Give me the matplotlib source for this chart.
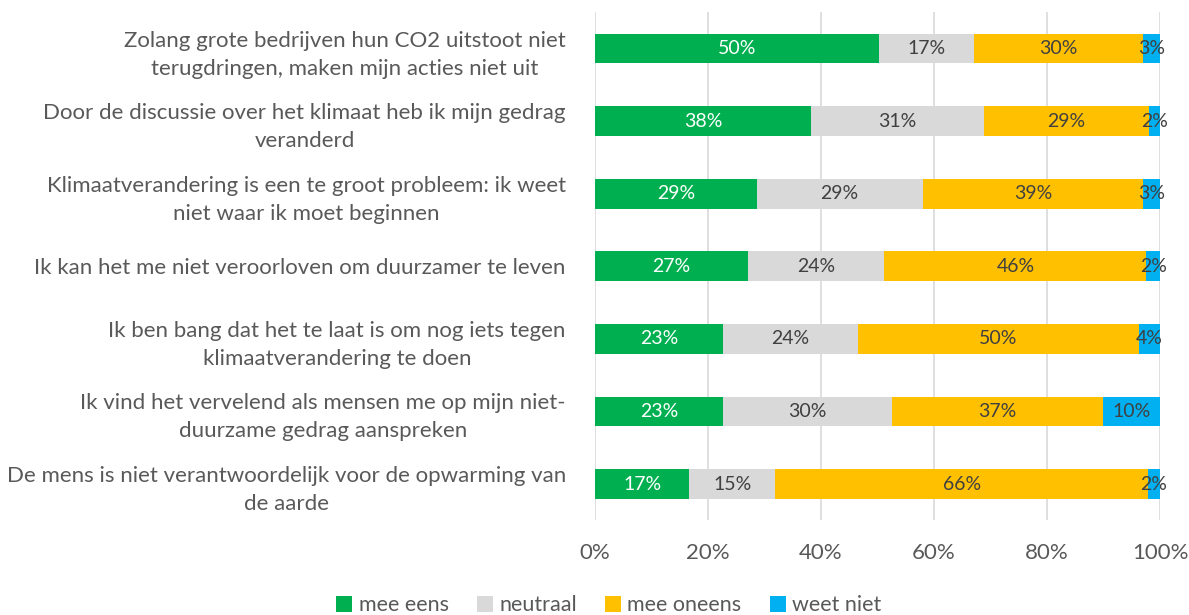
import matplotlib.pyplot as plt
import numpy as np

# Data (percentages)
statements = [
    'Zolang grote bedrijven hun CO2 uitstoot niet\nterugdringen, maken mijn acties niet uit',
    'Door de discussie over het klimaat heb ik mijn gedrag\nveranderd',
    'Klimaatverandering is een te groot probleem: ik weet\nniet waar ik moet beginnen',
    'Ik kan het me niet veroorloven om duurzamer te leven',
    'Ik ben bang dat het te laat is om nog iets tegen\nklimaatverandering te doen',
    'Ik vind het vervelend als mensen me op mijn niet-\nduurzame gedrag aanspreken',
    'De mens is niet verantwoordelijk voor de opwarming van\nde aarde',
]
mee_eens = [50.3, 38.2, 28.6, 27.0, 22.6, 22.6, 16.7]
neutraal = [16.8, 30.6, 29.4, 24.2, 23.9, 29.9, 15.2]
mee_oneens = [29.9, 29.3, 39.0, 46.4, 49.8, 37.4, 66.0]
weet_niet = [3.0, 1.9, 3.0, 2.4, 3.7, 10.1, 2.1]

series = [mee_eens, neutraal, mee_oneens, weet_niet]
names = ['mee eens', 'neutraal', 'mee oneens', 'weet niet']
colors = ['#00B050', '#D9D9D9', '#FFC000', '#00B0F0']
label_colors = ['white', '#404040', '#404040', '#404040']

plt.rcParams['font.family'] = ['Lato', 'DejaVu Sans']
txt = '#595959'

fig = plt.figure(figsize=(11.89, 6.15), dpi=100)
ax = fig.add_axes([0.5004, 0.154, 0.4752, 0.826])

y = np.arange(len(statements))
left = np.zeros(len(statements))
for vals, name, col, lc in zip(series, names, colors, label_colors):
    vals = np.array(vals) / 100
    bars = ax.barh(y, vals, left=left, height=0.41, color=col, label=name, zorder=3)
    for b, v in zip(bars, vals):
        ax.text(b.get_x() + b.get_width() / 2, b.get_y() + b.get_height() / 2,
                '{:.0f}%'.format(round(v * 100)), ha='center', va='center',
                color=lc, fontsize=14, zorder=4)
    left += vals

ax.set_xlim(0, 1)
ax.set_ylim(len(statements) - 0.5, -0.5)
ax.set_xticks(np.arange(0, 1.01, 0.2))
ax.set_xticklabels(['{:.0f}%'.format(t * 100) for t in np.arange(0, 1.01, 0.2)])
ax.set_yticks(y)
ax.set_yticklabels(statements, ha='right', multialignment='center', linespacing=1.5)
ax.tick_params(axis='both', length=0, colors=txt)
ax.tick_params(axis='x', pad=16, labelsize=16)
ax.tick_params(axis='y', pad=21, labelsize=16)
ax.grid(axis='x', color='#D9D9D9', linewidth=1.2, zorder=0)
for s in ax.spines.values():
    s.set_visible(False)

leg = fig.legend(loc='lower center', bbox_to_anchor=(0.512, -0.032), ncol=4, frameon=False,
                 fontsize=15.5, handlelength=0.75, handleheight=0.75, handletextpad=0.3,
                 columnspacing=1.3)
for t in leg.get_texts():
    t.set_color(txt)

fig.savefig('out.png', dpi=100)
